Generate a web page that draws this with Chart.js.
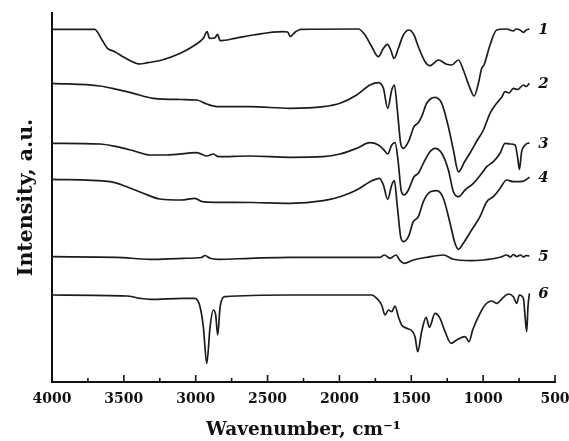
<!DOCTYPE html>
<html>
<head>
<meta charset="utf-8">
<script src="https://cdn.jsdelivr.net/npm/chart.js@4.4.1/dist/chart.umd.min.js"></script>
<style>
html,body{margin:0;padding:0;background:#fff;}
#wrap{width:569px;height:441px;}
</style>
</head>
<body>
<div id="wrap"><canvas id="c" width="569" height="441"></canvas></div>
<script>
// ---- data (wavenumber, cm-1 ; intensity, arbitrary units) ----
const seriesLabels = ['1', '2', '3', '4', '5', '6'];
const xTitle = 'Wavenumber, cm\u207B\u00B9';
const yTitle = 'Intensity, a.u.';
const xMin = 500, xMax = 4000, xStep = 250, xLabelStep = 500;

const wn1 = [4000, 3703, 3652, 3614, 3563, 3500, 3411, 3388, 3335, 3234, 3107, 3005, 2947, 2921, 2904, 2866, 2848, 2830, 2726, 2599, 2396, 2360, 2342, 2307, 2269, 1868, 1822, 1775, 1729, 1694, 1666, 1643, 1620, 1590, 1555, 1516, 1481, 1451, 1404, 1370, 1311, 1254, 1219, 1172, 1138, 1091, 1063, 1033, 1010, 994, 952, 906, 836, 790, 770, 743, 720, 700, 678];
const in1 = [352.7, 352.7, 342, 333.7, 330.3, 324.7, 318.5, 318, 319.3, 322, 328.7, 337, 343.7, 350.3, 343.7, 344.3, 347.7, 341.3, 343.7, 347, 350.3, 350, 345.5, 350, 352.7, 353, 347, 335.3, 325.3, 333.7, 337.7, 332, 323.7, 333.7, 347, 352, 347, 335.3, 320.3, 316.3, 322, 317.7, 317, 322, 312, 293.7, 286, 298.7, 313.7, 317, 337, 352, 353, 351, 353, 352, 349.7, 352, 353];

const wn2 = [4000, 3666, 3550, 3434, 3295, 3100, 2993, 2923, 2843, 2622, 2344, 2112, 1996, 1880, 1787, 1729, 1694, 1664, 1636, 1618, 1597, 1574, 1555, 1520, 1481, 1451, 1428, 1393, 1335, 1288, 1242, 1207, 1172, 1130, 1091, 1040, 998, 952, 906, 870, 848, 820, 790, 760, 720, 700, 678];
const in2 = [298.7, 296, 292.7, 288.7, 283.7, 282.5, 282, 278, 275.3, 275.3, 273.7, 275.3, 278.7, 287, 297, 299.3, 293.7, 273.7, 292, 297, 272, 238.7, 233.7, 240.3, 255.3, 259.3, 265.3, 278.7, 284.7, 278.7, 255.3, 232, 210, 220, 229, 242, 252, 268.7, 278.7, 285, 290.3, 289, 293.7, 292.5, 297, 295.5, 298.7];

const wn3 = [4000, 3666, 3550, 3434, 3318, 3202, 2993, 2923, 2877, 2843, 2622, 2344, 2112, 1996, 1880, 1787, 1729, 1694, 1664, 1636, 1613, 1590, 1571, 1550, 1520, 1481, 1451, 1416, 1370, 1335, 1288, 1242, 1207, 1172, 1126, 1068, 1010, 975, 929, 882, 848, 813, 778, 759, 748, 732, 708, 678];
const in3 = [238.7, 238, 235.3, 231.3, 227, 227, 229.3, 226, 228, 225.3, 226, 224.7, 225.3, 228, 233.7, 239.3, 237, 232.7, 228, 237, 239.3, 218.7, 192, 187, 192, 205.3, 208.7, 218.7, 230.3, 233.7, 228.7, 212, 190.3, 185.3, 192, 198.7, 208.7, 215.3, 220.3, 228.7, 238.7, 238, 237, 223.7, 212.7, 230.3, 237, 239.3];

const wn4 = [4000, 3596, 3480, 3365, 3248, 3100, 3005, 2955, 2853, 2600, 2344, 2112, 1996, 1880, 1787, 1722, 1694, 1664, 1636, 1618, 1597, 1574, 1555, 1520, 1486, 1451, 1416, 1381, 1323, 1277, 1230, 1196, 1172, 1138, 1080, 1022, 975, 929, 882, 836, 790, 743, 710, 678];
const in4 = [202.7, 200.3, 195.3, 188.7, 183, 182, 183.7, 180.3, 179.7, 179.5, 178.7, 181.3, 185.3, 192, 200.3, 203.7, 197, 182.7, 197, 201.3, 175.3, 145.3, 140.3, 145.3, 160.3, 165.3, 180.3, 188.7, 191.3, 183.7, 158.7, 138.7, 132.7, 138.7, 152, 165.3, 180.3, 185.3, 193.7, 202, 200.3, 200.3, 201.5, 204.7];

const wn5 = [4000, 3550, 3318, 3086, 2960, 2935, 2900, 2843, 2622, 2344, 1717, 1687, 1648, 1606, 1578, 1550, 1486, 1393, 1277, 1207, 1091, 998, 882, 836, 810, 790, 766, 740, 720, 700, 678];
const in5 = [125.3, 124.7, 122.7, 123.7, 124.5, 126.5, 123.7, 122.7, 123.7, 124.7, 124.7, 127, 123.7, 127, 121.3, 118.7, 122, 124.7, 127, 122.7, 121.3, 122, 124.7, 127, 125, 127.5, 125.5, 127, 125, 126.5, 126];

const wn6 = [4000, 3480, 3388, 3318, 3086, 3005, 2970, 2947, 2923, 2900, 2877, 2861, 2847, 2830, 2796, 2344, 1775, 1741, 1706, 1683, 1659, 1636, 1613, 1590, 1567, 1532, 1497, 1474, 1455, 1428, 1397, 1374, 1335, 1300, 1265, 1223, 1184, 1126, 1098, 1073, 1033, 987, 940, 906, 859, 824, 790, 766, 748, 720, 708, 697, 688, 678];
const in6 = [87, 86, 83.7, 82.7, 83.7, 83.7, 75.3, 55.3, 18.7, 55.3, 72, 67, 47, 75.3, 85.3, 87, 87, 83.7, 77, 67, 72, 70.3, 76, 65.3, 57, 53.7, 51.3, 45.3, 30.3, 50.3, 64.7, 54.7, 68.7, 63.7, 50.3, 38.7, 42, 45.3, 40.3, 52, 65.3, 77, 81, 78.7, 84.7, 88, 85.3, 78.7, 87, 83.7, 65.3, 50.3, 75.3, 88.7];

const wnSets = [wn1, wn2, wn3, wn4, wn5, wn6];
const inSets = [in1, in2, in3, in4, in5, in6];

// ---- build chart ----
const LINE = '#1c1c1c';
const datasets = wnSets.map((w, i) => ({
  label: seriesLabels[i],
  data: w.map((x, k) => ({x: x, y: inSets[i][k]})),
  borderColor: LINE,
  borderWidth: 1.7,
  pointRadius: 0,
  fill: false,
  cubicInterpolationMode: 'monotone'
}));

const serif = '"DejaVu Serif", "Liberation Serif", serif';

const extras = {
  id: 'extras',
  afterDraw(chart) {
    const ctx = chart.ctx;
    const xs = chart.scales.x, ys = chart.scales.y;
    ctx.save();
    // inward tick marks on the bottom axis
    ctx.strokeStyle = '#111';
    ctx.lineWidth = 1.6;
    xs.ticks.forEach(t => {
      const px = xs.getPixelForValue(t.value);
      const len = (t.value % xLabelStep === 0) ? 7 : 4;
      ctx.beginPath();
      ctx.moveTo(px, xs.top);
      ctx.lineTo(px, xs.top - len);
      ctx.stroke();
    });
    // series numbers at the right end of each curve
    ctx.fillStyle = '#111';
    ctx.font = 'italic bold 15px ' + serif;
    ctx.textAlign = 'center';
    ctx.textBaseline = 'middle';
    chart.data.datasets.forEach((ds, i) => {
      const last = ds.data[ds.data.length - 1];
      const px = xs.getPixelForValue(last.x) + 14;
      const py = ys.getPixelForValue(last.y) + 1;
      ctx.fillText(ds.label, px, py);
    });
    ctx.restore();
  }
};

new Chart(document.getElementById('c'), {
  type: 'line',
  data: {datasets},
  plugins: [extras],
  options: {
    responsive: false,
    animation: false,
    devicePixelRatio: 1,
    layout: {padding: {top: 13, right: 14, left: 0, bottom: 0}},
    plugins: {legend: {display: false}, tooltip: {enabled: false}},
    scales: {
      x: {
        type: 'linear',
        reverse: true,
        min: xMin, max: xMax,
        afterFit: s => { s.height = 59; s.paddingLeft = 0; s.paddingRight = 0; },
        border: {display: true, color: '#111', width: 2},
        grid: {display: true, drawOnChartArea: false, drawTicks: false, color: 'rgba(0,0,0,0)'},
        ticks: {
          stepSize: xStep,
          autoSkip: false,
          maxRotation: 0,
          padding: 9,
          color: '#111',
          font: {family: serif, size: 14, weight: 'bold'},
          callback: v => (v % xLabelStep === 0 ? String(v) : '')
        },
        title: {display: true, text: xTitle, color: '#111', padding: {top: 0, bottom: 0},
                font: {family: serif, size: 18.5, weight: 'bold'}}
      },
      y: {
        min: 0, max: 369,
        afterFit: s => { s.width = 52; s.paddingTop = 0; s.paddingBottom = 0; },
        border: {display: true, color: '#111', width: 2},
        grid: {display: false},
        ticks: {display: false},
        title: {display: true, text: yTitle, color: '#111', padding: {top: 14, bottom: 0},
                font: {family: serif, size: 20.5, weight: 'bold'}}
      }
    }
  }
});
</script>
</body>
</html>
